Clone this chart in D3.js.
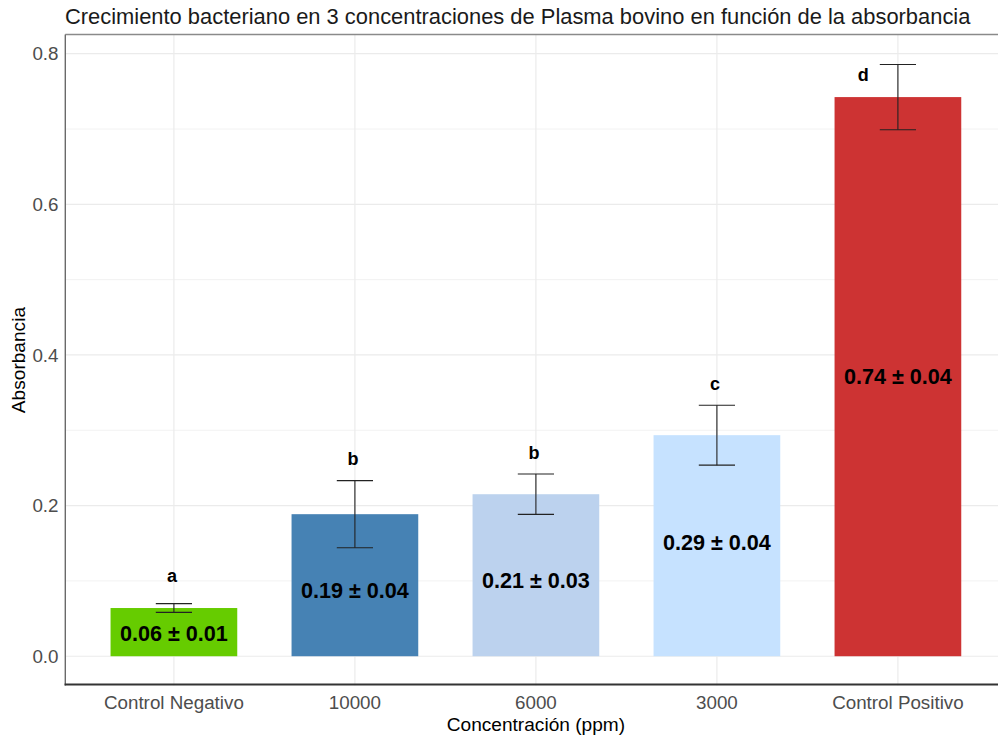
<!DOCTYPE html>
<html>
<head>
<meta charset="utf-8">
<script src="https://cdn.jsdelivr.net/npm/d3@7"></script>
<style>
  html, body { margin: 0; padding: 0; background: white; }
  svg { display: block; font-family: "Liberation Sans", Arial, sans-serif; }
</style>
</head>
<body>
<div id="chart"></div>
<script>
// values
let categories = ["Control Negativo", "10000", "6000", "3000", "Control Positivo"];
let means = [0.064, 0.1886, 0.2151, 0.2935, 0.7424];
let sds = [0.0058, 0.0445, 0.0268, 0.0398, 0.0433];
let valueLabels = ["0.06 ± 0.01", "0.19 ± 0.04", "0.21 ± 0.03", "0.29 ± 0.04", "0.74 ± 0.04"];
let valueLabelY = [0.031, 0.088, 0.101, 0.151, 0.372];
let letters = ["a", "b", "b", "c", "d"];
let letterY = [0.107, 0.263, 0.2704, 0.3616, 0.7719];
let letterShift = [0, 0, 0, 0, -0.18];
let colors = ["#66CC00", "#4682B4", "#BCD2EE", "#C6E2FF", "#CD3333"];
let yTicks = [0, 0.2, 0.4, 0.6, 0.8];
let yMinor = [0.1, 0.3, 0.5, 0.7];

let data = categories.map((c, i) => ({
  cat: c,
  mean: means[i],
  sd: sds[i],
  label: valueLabels[i],
  labelY: valueLabelY[i],
  letter: letters[i],
  letterY: letterY[i],
  shift: letterShift[i],
  color: colors[i]
}));

let width = 998;
let height = 738;

let panel = { left: 65.3, right: 1006.5, top: 34.5, bottom: 685.6 };

let x = d3.scalePoint()
  .domain(categories)
  .range([panel.left, panel.right])
  .padding(0.6);
let step = x.step();

let y = d3.scaleLinear()
  .domain([-0.039, 0.8255])
  .range([panel.bottom, panel.top]);

const svg = d3.select("#chart").append("svg")
  .attr("width", width)
  .attr("height", height);

const grid = svg.append("g");

grid.selectAll("line.minor")
  .data(yMinor)
  .join("line")
  .attr("x1", panel.left).attr("x2", width)
  .attr("y1", d => y(d)).attr("y2", d => y(d))
  .attr("stroke", "#F2F2F2")
  .attr("stroke-width", 1);

grid.selectAll("line.major")
  .data(yTicks)
  .join("line")
  .attr("x1", panel.left).attr("x2", width)
  .attr("y1", d => y(d)).attr("y2", d => y(d))
  .attr("stroke", "#EBEBEB")
  .attr("stroke-width", 1.2);

grid.selectAll("line.vert")
  .data(categories)
  .join("line")
  .attr("x1", d => x(d)).attr("x2", d => x(d))
  .attr("y1", panel.top).attr("y2", panel.bottom)
  .attr("stroke", "#EBEBEB")
  .attr("stroke-width", 1.2);

// bars
svg.append("g")
  .selectAll("rect")
  .data(data)
  .join("rect")
  .attr("x", d => x(d.cat) - step * 0.35)
  .attr("width", step * 0.7)
  .attr("y", d => y(d.mean))
  .attr("height", d => y(0) - y(d.mean))
  .attr("fill", d => d.color);

// error bars
const err = svg.append("g")
  .attr("stroke", "#222")
  .attr("stroke-width", 1.1);

data.forEach(d => {
  let cx = x(d.cat);
  let hw = step * 0.1;
  err.append("line")
    .attr("x1", cx).attr("x2", cx)
    .attr("y1", y(d.mean + d.sd)).attr("y2", y(d.mean - d.sd));
  err.append("line")
    .attr("x1", cx - hw).attr("x2", cx + hw)
    .attr("y1", y(d.mean + d.sd)).attr("y2", y(d.mean + d.sd));
  err.append("line")
    .attr("x1", cx - hw).attr("x2", cx + hw)
    .attr("y1", y(d.mean - d.sd)).attr("y2", y(d.mean - d.sd));
});

// value labels inside bars
svg.append("g")
  .selectAll("text")
  .data(data)
  .join("text")
  .attr("x", d => x(d.cat))
  .attr("y", d => y(d.labelY))
  .attr("dy", "0.36em")
  .attr("text-anchor", "middle")
  .attr("font-size", 21.6)
  .attr("font-weight", "bold")
  .attr("fill", "#000")
  .text(d => d.label);

// significance letters
svg.append("g")
  .selectAll("text")
  .data(data)
  .join("text")
  .attr("x", d => x(d.cat) + d.shift * step - 2)
  .attr("y", d => y(d.letterY))
  .attr("dy", "0.36em")
  .attr("text-anchor", "middle")
  .attr("font-size", 18)
  .attr("font-weight", "bold")
  .attr("fill", "#000")
  .text(d => d.letter);

// panel lines
svg.append("line")
  .attr("x1", panel.left).attr("x2", width)
  .attr("y1", panel.top).attr("y2", panel.top)
  .attr("stroke", "#8a8a8a").attr("stroke-width", 1.6);
svg.append("line")
  .attr("x1", panel.left).attr("x2", panel.left)
  .attr("y1", panel.top).attr("y2", panel.bottom)
  .attr("stroke", "#6a6a6a").attr("stroke-width", 1.4);
svg.append("line")
  .attr("x1", panel.left - 0.7).attr("x2", width)
  .attr("y1", panel.bottom - 1).attr("y2", panel.bottom - 1)
  .attr("stroke", "#333").attr("stroke-width", 2);

// y tick labels
svg.append("g")
  .selectAll("text")
  .data(yTicks)
  .join("text")
  .attr("x", 58.5)
  .attr("y", d => y(d))
  .attr("dy", "0.36em")
  .attr("text-anchor", "end")
  .attr("font-size", 18.8)
  .attr("fill", "#4D4D4D")
  .text(d => d3.format(".1f")(d));

// x tick labels
svg.append("g")
  .selectAll("text")
  .data(categories)
  .join("text")
  .attr("x", d => x(d))
  .attr("y", 702)
  .attr("dy", "0.36em")
  .attr("text-anchor", "middle")
  .attr("font-size", 18.8)
  .attr("fill", "#4D4D4D")
  .text(d => d);

// axis titles
svg.append("text")
  .attr("x", (panel.left + panel.right) / 2)
  .attr("y", 724)
  .attr("dy", "0.36em")
  .attr("text-anchor", "middle")
  .attr("font-size", 19.1)
  .attr("fill", "#000")
  .text("Concentración (ppm)");

svg.append("text")
  .attr("transform", `translate(18 ${(panel.top + panel.bottom) / 2}) rotate(-90)`)
  .attr("dy", "0.36em")
  .attr("text-anchor", "middle")
  .attr("font-size", 19.1)
  .attr("fill", "#000")
  .text("Absorbancia");

// title
svg.append("text")
  .attr("x", 65)
  .attr("y", 24)
  .attr("font-size", 21.9)
  .attr("fill", "#1a1a1a")
  .text("Crecimiento bacteriano en 3 concentraciones de Plasma bovino en función de la absorbancia");
</script>
</body>
</html>
